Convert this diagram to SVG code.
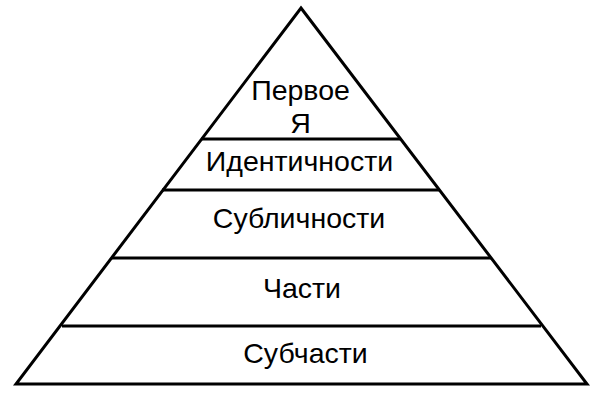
<svg xmlns="http://www.w3.org/2000/svg" width="600" height="400" viewBox="0 0 600 400">
<style>
.ln{stroke:#000;stroke-width:3;fill:none}
.t{font-family:"Liberation Sans",Arial,sans-serif;font-size:28.5px;fill:#000;text-anchor:middle}
</style>
<rect width="600" height="400" fill="#fff"/>
<g id="connectors">
<polygon class="ln" points="301,8 587,384 16,384"/>
<line class="ln" x1="201" y1="139" x2="400" y2="139"/>
<line class="ln" x1="162" y1="190" x2="439" y2="190"/>
<line class="ln" x1="111" y1="258" x2="491" y2="258"/>
<line class="ln" x1="62" y1="326" x2="541" y2="326"/>
</g>
<g id="level1"><text class="t" x="300.5" y="100">Первое</text><text class="t" x="300.5" y="133">Я</text></g>
<g id="level2"><text class="t" x="299.5" y="171">Идентичности</text></g>
<g id="level3"><text class="t" x="299" y="228">Субличности</text></g>
<g id="level4"><text class="t" x="302" y="298">Части</text></g>
<g id="level5"><text class="t" x="305.5" y="363">Субчасти</text></g>
</svg>
